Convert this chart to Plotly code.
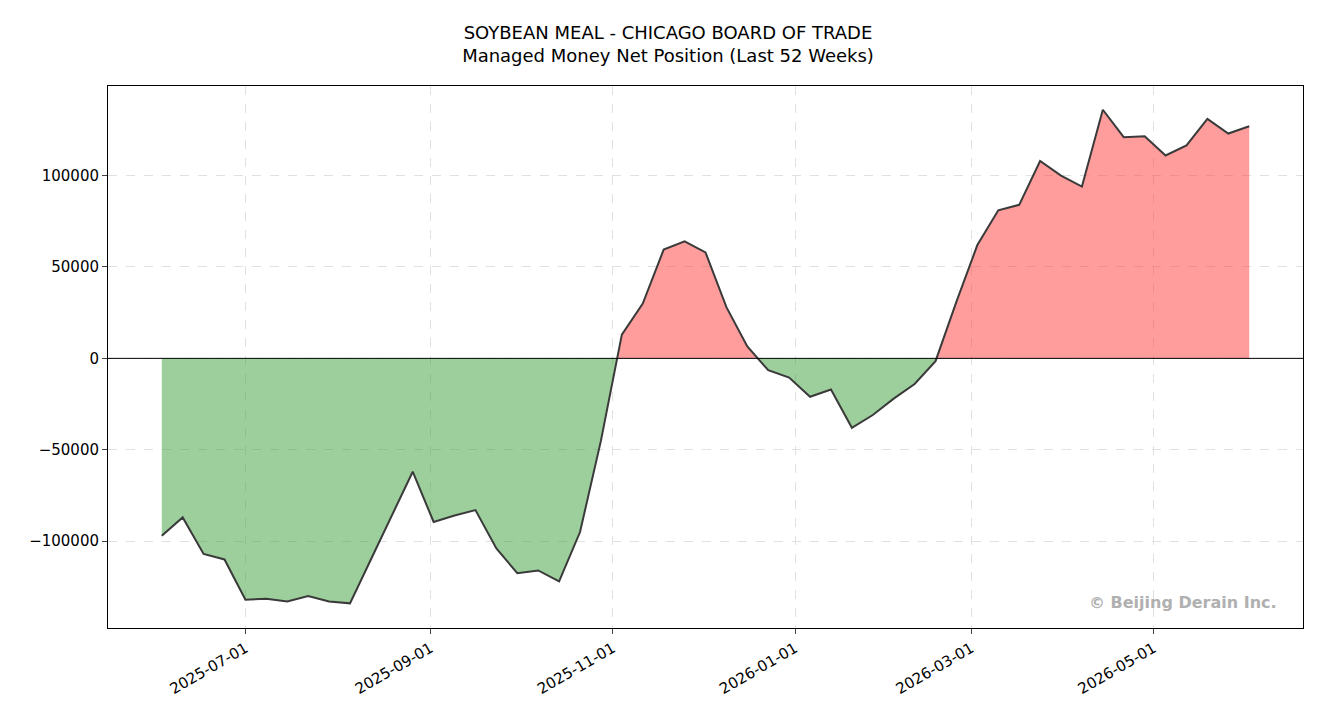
import plotly.graph_objects as go
import pandas as pd
import numpy as np

dates = pd.date_range("2025-06-03", periods=53, freq="7D")
values = [-97000,-87000,-107000,-110000,-132000,-131500,-133000,-130000,-133000,-134000,
          -110000,-86000,-62000,-89500,-86000,-83000,-104000,-117500,-116000,-122000,
          -95000,-45000,13000,30000,59500,64000,58000,28000,6500,-6500,
          -10500,-21000,-17000,-38000,-31000,-22000,-14000,-1500,31000,62000,
          81000,84000,108000,100000,94000,136000,121000,121500,111000,116500,
          131000,123000,127000]

# build fill geometry with zero crossings
t = [d.value for d in dates]
xs, ys = [], []
for i in range(len(values)):
    if i > 0 and (values[i-1] < 0) != (values[i] < 0) and values[i] != 0 and values[i-1] != 0:
        f = values[i-1] / (values[i-1] - values[i])
        xs.append(t[i-1] + f*(t[i]-t[i-1])); ys.append(0)
    xs.append(t[i]); ys.append(values[i])
xs = pd.to_datetime(xs)
ys = np.array(ys, dtype=float)

fig = go.Figure()
fig.add_trace(go.Scatter(x=xs, y=np.maximum(ys, 0), fill="tozeroy", mode="none",
                         fillcolor="rgba(255,60,60,0.5)", hoverinfo="skip"))
fig.add_trace(go.Scatter(x=xs, y=np.minimum(ys, 0), fill="tozeroy", mode="none",
                         fillcolor="rgba(60,160,60,0.5)", hoverinfo="skip"))
fig.add_trace(go.Scatter(x=dates, y=values, mode="lines", line=dict(color="#3a3a3a", width=2)))

fig.add_hline(y=0, line=dict(color="black", width=1))

fig.update_layout(
    width=1320, height=720, showlegend=False, plot_bgcolor="white", paper_bgcolor="white",
    margin=dict(l=100, r=25, t=78, b=100),
    font=dict(family="DejaVu Sans", size=15, color="black"),
    title=dict(text="SOYBEAN MEAL - CHICAGO BOARD OF TRADE<br>Managed Money Net Position (Last 52 Weeks)",
               x=0.5, xanchor="center", y=0.957, yanchor="middle", font=dict(size=18)),
    xaxis=dict(range=["2025-05-16", "2026-06-20"], tickvals=["2025-07-01","2025-09-01","2025-11-01","2026-01-01","2026-03-01","2026-05-01"],
               tickformat="%Y-%m-%d", tickangle=-30, showgrid=True, gridcolor="#e0e0e0", griddash="dash",
               showline=True, linecolor="black", mirror=True, ticks="outside", zeroline=False),
    yaxis=dict(range=[-147500, 149000], tickvals=[-100000,-50000,0,50000,100000],
               ticktext=["−100000","−50000","0","50000","100000"],
               showgrid=True, gridcolor="#e0e0e0", griddash="dash",
               showline=True, linecolor="black", mirror=True, ticks="outside", zeroline=False),
    annotations=[dict(text="<b>© Beijing Derain Inc.</b>", xref="paper", yref="paper", x=0.98, y=0.025,
                      xanchor="right", yanchor="bottom", showarrow=False,
                      font=dict(size=16, color="#b0b0b0", family="DejaVu Sans"))],
)
fig.write_html("out.html")
